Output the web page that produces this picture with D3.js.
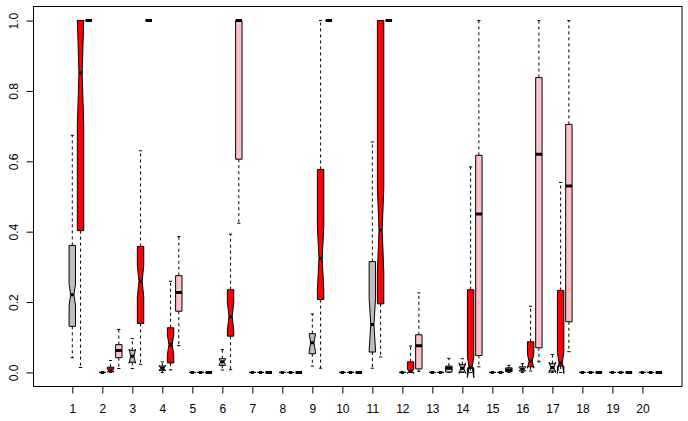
<!DOCTYPE html>
<html>
<head>
<meta charset="utf-8">
<script src="https://cdn.jsdelivr.net/npm/d3@7"></script>
<style>
    body { margin: 0; background: #fff; }
    text { font-family: "Liberation Sans", Arial, sans-serif; font-size: 12px; }
</style>
</head>
<body>
<div id="chart-area"></div>
<script>
// categories and axis ticks
const groups = d3.range(1, 21);
const yTicks = [0, 0.2, 0.4, 0.6, 0.8, 1.0];

// one row per group: [lower whisker, q1, median, q3, upper whisker, notch half-width]
const greyStats = [
    [0.042, 0.131, 0.221, 0.361, 0.674, 0.030],
    [0, 0, 0, 0, 0, 0],
    [0.011, 0.029, 0.046, 0.063, 0.096, 0.020],
    [0, 0.006, 0.012, 0.018, 0.030, 0.008],
    [0, 0, 0, 0, 0, 0],
    [0.007, 0.020, 0.030, 0.039, 0.065, 0.008],
    [0, 0, 0, 0, 0, 0],
    [0, 0, 0, 0, 0, 0],
    [0.018, 0.053, 0.084, 0.110, 0.166, 0.025],
    [0, 0, 0, 0, 0, 0],
    [0.012, 0.058, 0.136, 0.315, 0.655, 0.075],
    [0, 0, 0, 0, 0, 0],
    [0, 0, 0, 0, 0, 0],
    [0, 0.001, 0.012, 0.022, 0.039, 0.015],
    [0, 0, 0, 0, 0, 0],
    [0, 0.004, 0.009, 0.016, 0.025, 0.005],
    [0, 0.004, 0.014, 0.025, 0.051, 0.015],
    [0, 0, 0, 0, 0, 0],
    [0, 0, 0, 0, 0, 0],
    [0, 0, 0, 0, 0, 0]
];

const redStats = [
    [0.014, 0.403, 0.851, 1.0, 1.0, 0.150],
    [0, 0.002, 0.005, 0.015, 0.034, 0.004],
    [0.023, 0.139, 0.259, 0.358, 0.630, 0.045],
    [0.007, 0.027, 0.079, 0.127, 0.259, 0.028],
    [0, 0, 0, 0, 0, 0],
    [0.008, 0.103, 0.159, 0.235, 0.393, 0.040],
    [0, 0, 0, 0, 0, 0],
    [0, 0, 0, 0, 0, 0],
    [0.012, 0.207, 0.324, 0.577, 1.0, 0.090],
    [0, 0, 0, 0, 0, 0],
    [0.044, 0.195, 0.405, 1.0, 1.0, 0.120],
    [0, 0, 0.003, 0.030, 0.075, 0.006],
    [0, 0, 0, 0, 0, 0],
    [0, 0.013, 0.015, 0.235, 0.584, 0.030],
    [0, 0, 0, 0, 0, 0],
    [0.004, 0.016, 0.032, 0.087, 0.188, 0.020],
    [0, 0.018, 0.027, 0.233, 0.540, 0.030],
    [0, 0, 0, 0, 0, 0],
    [0, 0, 0, 0, 0, 0],
    [0, 0, 0, 0, 0, 0]
];

// pink boxes are drawn without notches
const pinkStats = [
    [1, 1, 1, 1, 1, 0],
    [0.011, 0.042, 0.062, 0.079, 0.122, 0],
    [1, 1, 1, 1, 1, 0],
    [0.076, 0.174, 0.227, 0.275, 0.386, 0],
    [0, 0, 0, 0, 0, 0],
    [0.424, 0.606, 1.0, 1.0, 1.0, 0],
    [0, 0, 0, 0, 0, 0],
    [0, 0, 0, 0, 0, 0],
    [1, 1, 1, 1, 1, 0],
    [0, 0, 0, 0, 0, 0],
    [1, 1, 1, 1, 1, 0],
    [0.003, 0.010, 0.076, 0.107, 0.226, 0],
    [0, 0.001, 0.012, 0.018, 0.040, 0],
    [0.016, 0.048, 0.450, 0.617, 1.0, 0],
    [0, 0.002, 0.007, 0.013, 0.020, 0],
    [0.030, 0.070, 0.620, 0.838, 1.0, 0],
    [0.059, 0.144, 0.530, 0.705, 1.0, 0],
    [0, 0, 0, 0, 0, 0],
    [0, 0, 0, 0, 0, 0],
    [0, 0, 0, 0, 0, 0]
];

const series = [
    { name: "grey", fill: "#bebebe", offset: 0, notch: true, stats: greyStats },
    { name: "red", fill: "#ff0000", offset: 0.275, notch: true, stats: redStats },
    { name: "pink", fill: "#ffc0cb", offset: 0.55, notch: false, stats: pinkStats }
];

const width = 688, height = 421;
const plotLeft = 33.5, plotRight = 682, plotTop = 6.5, plotBottom = 386.5;
const halfW = 3.2;      // half box width in px
const notchFrac = 0.5;

let svg = d3.select("#chart-area")
    .append("svg")
    .attr("width", width)
    .attr("height", height);

let x = d3.scaleLinear()
    .domain([-0.293, 21.32])
    .range([plotLeft, plotRight]);

let y = d3.scaleLinear()
    .domain([-0.04, 1.04])
    .range([plotBottom, plotTop]);

svg.append("clipPath")
    .attr("id", "plot-clip")
    .append("rect")
    .attr("x", plotLeft)
    .attr("y", plotTop)
    .attr("width", plotRight - plotLeft)
    .attr("height", plotBottom - plotTop);

let plot = svg.append("g").attr("clip-path", "url(#plot-clip)");

series.forEach(function (s) {
    let g = plot.selectAll("g." + s.name)
        .data(s.stats)
        .enter().append("g")
        .attr("class", s.name);

    let cx = (d, i) => x(groups[i] + s.offset);
    let medW = s.notch ? halfW * notchFrac : halfW;

    // whiskers
    g.append("line")
        .attr("x1", cx).attr("x2", cx)
        .attr("y1", d => y(d[1])).attr("y2", d => y(d[0]))
        .attr("stroke", "#000").attr("stroke-dasharray", "3,3");
    g.append("line")
        .attr("x1", cx).attr("x2", cx)
        .attr("y1", d => y(d[3])).attr("y2", d => y(d[4]))
        .attr("stroke", "#000").attr("stroke-dasharray", "3,3");

    // staples
    [0, 4].forEach(function (k) {
        g.append("line")
            .attr("x1", (d, i) => cx(d, i) - halfW * 0.5)
            .attr("x2", (d, i) => cx(d, i) + halfW * 0.5)
            .attr("y1", d => y(d[k])).attr("y2", d => y(d[k]))
            .attr("stroke", "#000");
    });

    // box, with notch in the same vertex order as R's bxp
    g.append("polygon")
        .attr("points", function (d, i) {
            let c = cx(d, i);
            let xs, ys;
            if (s.notch) {
                let lo = d[2] - d[5], hi = d[2] + d[5];
                xs = [-1, 1, 1, notchFrac, 1, 1, -1, -1, -notchFrac, -1];
                ys = [d[1], d[1], lo, d[2], hi, d[3], d[3], hi, d[2], lo];
            } else {
                xs = [-1, 1, 1, -1];
                ys = [d[1], d[1], d[3], d[3]];
            }
            return xs.map((v, j) => (c + v * halfW) + "," + y(ys[j])).join(" ");
        })
        .attr("fill", s.fill)
        .attr("stroke", "#000")
        .attr("stroke-width", 1);

    // median
    g.append("line")
        .attr("x1", (d, i) => cx(d, i) - medW)
        .attr("x2", (d, i) => cx(d, i) + medW)
        .attr("y1", d => y(d[2])).attr("y2", d => y(d[2]))
        .attr("stroke", "#000")
        .attr("stroke-width", 3);
});

// frame
svg.append("rect")
    .attr("x", plotLeft).attr("y", plotTop)
    .attr("width", plotRight - plotLeft).attr("height", plotBottom - plotTop)
    .attr("fill", "none").attr("stroke", "#000");

let xAxis = svg.append("g")
    .attr("transform", "translate(0," + plotBottom + ")")
    .call(d3.axisBottom(x).tickValues(groups).tickSize(7).tickPadding(11));

let yAxis = svg.append("g")
    .attr("transform", "translate(" + plotLeft + ",0)")
    .call(d3.axisLeft(y).tickValues(yTicks).tickSize(7).tickFormat(d3.format(".1f")));

[xAxis, yAxis].forEach(function (a) {
    a.select(".domain").remove();
    a.selectAll("line").attr("stroke", "#000");
    a.selectAll("text")
        .attr("fill", "#000")
        .style("font-family", "'Liberation Sans', Arial, sans-serif")
        .style("font-size", "12px");
});

yAxis.selectAll("text")
    .attr("x", null).attr("dy", null)
    .attr("text-anchor", "middle")
    .attr("transform", "translate(-16,0) rotate(-90)");
</script>
</body>
</html>
